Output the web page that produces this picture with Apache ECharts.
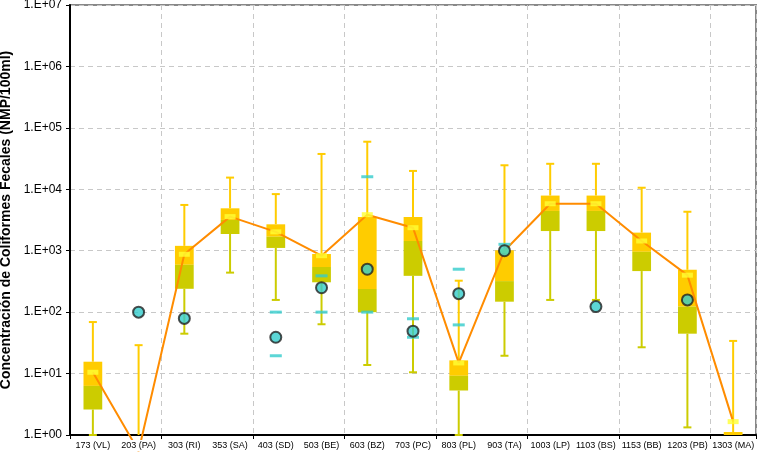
<!DOCTYPE html>
<html>
<head>
<meta charset="utf-8">
<script src="https://cdn.jsdelivr.net/npm/echarts@6/dist/echarts.min.js"></script>
<style>
html,body{margin:0;padding:0;background:#fff;}
#chart{width:760px;height:454px;}
</style>
</head>
<body>
<div id="chart"></div>
<script>
const categories = ['173 (VL)', '203 (PA)', '303 (RI)', '353 (SA)', '403 (SD)', '503 (BE)', '603 (BZ)', '703 (PC)', '803 (PL)', '903 (TA)', '1003 (LP)', '1103 (BS)', '1153 (BB)', '1203 (PB)', '1303 (MA)'];
const maxVals = [69, 29, 5560, 15500, 8350, 37600, 59500, 19900, 325, 24600, 26000, 26000, 10600, 4310, 34];
const q3Vals = [15.6, null, 1200, 4900, 2690, 885, 3540, 3540, 16.4, 1016, 7900, 7900, 1970, 490, 1.12];
const medianVals = [6.3, null, 590, 3170, 1690, 543, 238, 1440, 9.2, 320, 4440, 4440, 960, 123, 1];
const q1Vals = [2.6, null, 240, 1870, 1110, 306, 100, 390, 5.3, 148, 2090, 2090, 466, 44.6, 1];
const minVals = [1, 1, 44.6, 440, 158, 63.5, 13.8, 10.5, 1, 19.5, 158, 158, 26.8, 1.33, 1];
const meanVals = [10.5, 0.55, 875, 3590, 2030, 830, 3860, 2370, 14.9, 1000, 5820, 5820, 1440, 400, 1.65];
const circleVals = [null, 100, 79, null, 39, 250, 500, 49, 200, 1000, null, 123, null, 158, null];
const dashHighVals = [null, null, null, null, 100, 390, 16000, 78, 500, 1270, null, null, null, null, null];
const dashLowVals = [null, null, null, null, 19.5, 100, 100, 39, 62, null, null, null, null, null, null];

const ORANGE = '#FFCC00';
const OLIVE = '#CCCC00';
const FONT = 'Arial, "Liberation Sans", sans-serif';

function renderBox(params, api) {
  const i = params.dataIndex;
  const bw = api.size([1, 0])[0] * 0.41;
  const cw = 8;
  const x = api.coord([i, 1])[0];
  const yMax = api.coord([i, maxVals[i]])[1];
  const yMin = api.coord([i, minVals[i]])[1];
  const children = [];
  const lineStyle = (c) => ({ stroke: c, lineWidth: 2 });
  if (q3Vals[i] == null) {
    children.push({ type: 'line', shape: { x1: x, y1: yMin, x2: x, y2: yMax }, style: lineStyle(ORANGE) });
    children.push({ type: 'line', shape: { x1: x - cw / 2, y1: yMax, x2: x + cw / 2, y2: yMax }, style: lineStyle(ORANGE) });
  } else {
    const yQ3 = api.coord([i, q3Vals[i]])[1];
    const yMed = api.coord([i, medianVals[i]])[1];
    const yQ1 = api.coord([i, q1Vals[i]])[1];
    children.push({ type: 'line', shape: { x1: x, y1: yQ3, x2: x, y2: yMax }, style: lineStyle(ORANGE) });
    children.push({ type: 'line', shape: { x1: x - cw / 2, y1: yMax, x2: x + cw / 2, y2: yMax }, style: lineStyle(ORANGE) });
    if (yMin - yQ1 > 0.5) {
      children.push({ type: 'line', shape: { x1: x, y1: yQ1, x2: x, y2: yMin }, style: lineStyle(OLIVE) });
      children.push({ type: 'line', shape: { x1: x - cw / 2, y1: yMin, x2: x + cw / 2, y2: yMin }, style: lineStyle(OLIVE) });
    }
    children.push({ type: 'rect', shape: { x: x - bw / 2, y: yQ3, width: bw, height: yMed - yQ3 }, style: { fill: ORANGE } });
    if (yQ1 - yMed > 0) {
      children.push({ type: 'rect', shape: { x: x - bw / 2, y: yMed, width: bw, height: yQ1 - yMed }, style: { fill: OLIVE } });
    }
  }
  return { type: 'group', children };
}

const dashData = [];
dashHighVals.forEach((v, i) => { if (v != null) dashData.push([i, v]); });
dashLowVals.forEach((v, i) => { if (v != null) dashData.push([i, v]); });

const chart = echarts.init(document.getElementById('chart'), null, { renderer: 'canvas' });
chart.setOption({
  animation: false,
  backgroundColor: '#fff',
  grid: { left: 70, right: 4, top: 5, bottom: 19, show: true, borderColor: '#888', borderWidth: 2, backgroundColor: 'transparent', containLabel: false, outerBoundsMode: 'none' },
  xAxis: [{
    type: 'category',
    data: categories,
    boundaryGap: true,
    position: 'bottom',
    axisLine: { show: true, lineStyle: { color: '#000', width: 2 } },
    axisTick: { show: true, length: 4, lineStyle: { color: '#000', width: 1 } },
    axisLabel: { show: false },
    splitLine: { show: true, lineStyle: { color: '#c8c8c8', type: [5, 4], width: 1 } }
  }, {
    type: 'category',
    data: categories,
    boundaryGap: true,
    position: 'bottom',
    z: 10,
    axisLine: { show: false },
    axisTick: { show: false },
    splitLine: { show: false },
    axisLabel: { show: true, interval: 0, fontSize: 9, color: '#000', fontFamily: FONT, margin: 5, backgroundColor: '#fff', padding: [1, 2] }
  }],
  yAxis: {
    type: 'log',
    logBase: 10,
    min: 1,
    max: 1e7,
    splitNumber: 7,
    name: 'Concentración de Coliformes Fecales (NMP/100ml)',
    nameLocation: 'middle',
    nameGap: 54,
    nameTextStyle: { fontSize: 14, fontWeight: 'bold', color: '#000', fontFamily: FONT },
    axisLine: { show: true, lineStyle: { color: '#000', width: 2 } },
    axisTick: { show: true, length: 4, lineStyle: { color: '#000', width: 1 } },
    axisLabel: {
      fontSize: 12, color: '#000', fontFamily: FONT, margin: 8,
      formatter: (v) => '1.E+' + String(Math.round(Math.log10(v))).padStart(2, '0')
    },
    splitLine: { show: true, lineStyle: { color: '#c8c8c8', type: [5, 4], width: 1 } }
  },
  series: [{
    type: 'custom',
    name: 'boxes',
    z: 2,
    data: maxVals.map((v, i) => [i, v]),
    encode: { x: 0, y: 1 },
    renderItem: renderBox
  }, {
    type: 'line',
    name: 'trend',
    z: 3,
    clip: false,
    symbol: 'none',
    lineStyle: { color: '#FF8C00', width: 2 },
    data: meanVals.map((v, i) => [i, v])
  }, {
    type: 'scatter',
    name: 'mean',
    z: 4,
    clip: true,
    symbol: 'rect',
    symbolSize: [11, 5],
    itemStyle: { color: '#FFFF33' },
    data: meanVals.map((v, i) => [i, v])
  }, {
    type: 'scatter',
    name: 'dashes',
    z: 5,
    symbol: 'rect',
    symbolSize: [12, 3],
    itemStyle: { color: '#33CCCC' },
    data: dashData
  }, {
    type: 'scatter',
    name: 'points',
    z: 6,
    symbol: 'circle',
    symbolSize: 11,
    itemStyle: { color: '#33CCCC', borderColor: '#222', borderWidth: 2 },
    data: circleVals.map((v, i) => [i, v]).filter(d => d[1] != null)
  }]
});
</script>
</body>
</html>
